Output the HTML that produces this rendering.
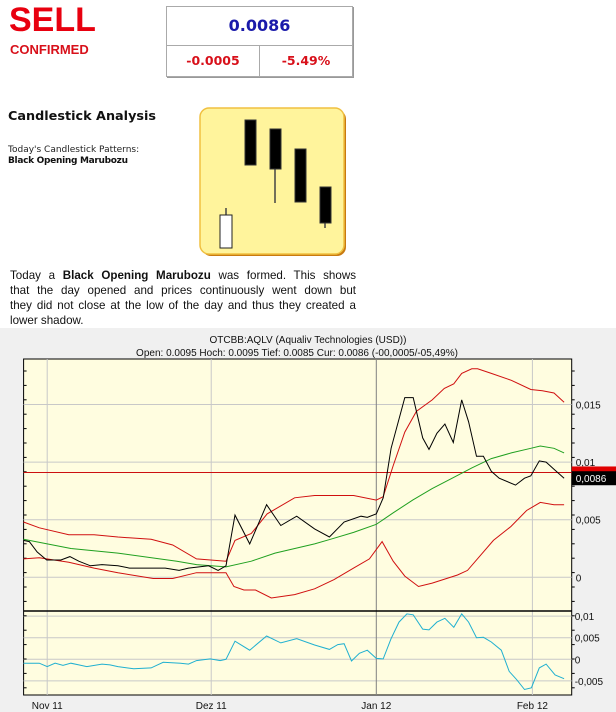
<!DOCTYPE html>
<html><head><meta charset="utf-8"><style>
body{margin:0;width:616px;height:712px;overflow:hidden;background:#fff;font-family:"Liberation Sans",sans-serif;position:relative}
.a{position:absolute}
.v{font-family:"DejaVu Sans","Liberation Sans",sans-serif}
.ln{text-align:justify;text-align-last:justify;white-space:nowrap;height:15px}
</style></head><body>
<div class="a" style="left:9px;top:1px;font-size:34px;font-weight:bold;color:#e8000f">SELL</div>
<div class="a" style="left:10px;top:42px;font-size:13px;font-weight:bold;color:#d8101a">CONFIRMED</div>
<div class="a v" style="left:166px;top:6px;width:185px;height:69px;border:1px solid #aaa;box-shadow:1px 1px 0 #999">
 <div style="height:38px;border-bottom:1px solid #aaa;text-align:center;line-height:38px;font-size:16px;font-weight:bold;color:#1a1aaa">0.0086</div>
 <div style="position:absolute;left:0;top:39px;width:92px;height:30px;border-right:1px solid #aaa;text-align:center;line-height:30px;font-size:12.5px;font-weight:bold;color:#d8101a">-0.0005</div>
 <div style="position:absolute;left:93px;top:39px;width:92px;height:30px;text-align:center;line-height:30px;font-size:12.5px;font-weight:bold;color:#d8101a">-5.49%</div>
</div>
<div class="a v" style="left:8px;top:109px;font-size:12.8px;font-weight:bold;color:#111">Candlestick Analysis</div>
<div class="a v" style="left:8px;top:145px;font-size:9px;color:#222">Today's Candlestick Patterns:</div>
<div class="a v" style="left:8px;top:156px;font-size:9px;font-weight:bold;color:#111;letter-spacing:-0.3px">Black Opening Marubozu</div>
<svg class="a" style="left:198px;top:106px" width="154" height="154">
 <rect x="4" y="4" width="144" height="146" rx="9" fill="#c87a10"/>
 <rect x="2" y="2" width="144" height="146" rx="9" fill="#fff49c" stroke="#f0c040" stroke-width="1.5"/>
 <line x1="28" y1="102" x2="28" y2="110" stroke="#444" stroke-width="1.5"/>
 <rect x="22" y="109" width="12" height="33" fill="#fff" stroke="#222"/>
 <rect x="47" y="14" width="11" height="45" fill="#000" stroke="#333"/>
 <line x1="77" y1="23" x2="77" y2="97" stroke="#444" stroke-width="1.5"/>
 <rect x="72" y="23" width="11" height="40" fill="#000" stroke="#333"/>
 <rect x="97" y="43" width="11" height="53" fill="#000" stroke="#333"/>
 <line x1="127" y1="81" x2="127" y2="122" stroke="#444" stroke-width="1.5"/>
 <rect x="122" y="81" width="11" height="36" fill="#000" stroke="#333"/>
</svg>
<div class="a" style="left:10px;top:268px;width:346px;font-size:11.6px;line-height:15px;color:#111">
 <div class="ln">Today a <b>Black Opening Marubozu</b> was formed. This shows</div>
 <div class="ln">that the day opened and prices continuously went down but</div>
 <div class="ln">they did not close at the low of the day and thus they created a</div>
 <div style="height:15px">lower shadow.</div>
</div>

<svg class="a" id="chart" style="left:0;top:328px" width="616" height="384"></svg>
<script>
const blackDays=[-4.5,-3.4,-1.9,-0.1,2.6,4.3,6,8.2,10.4,13.4,15.6,19.4,22.4,25,26.8,30.6,32.4,33.9,35.6,38.4,41.6,44.3,47.3,50.7,53.5,56.3,59.5,60.7,62.4,63.7,65.2,67.8,69.4,71.2,72.4,73.9,75.4,77,78.6,79.9,81.4,82.7,84.2,85.7,88.8,90.5,91.7,93.3,94.6,96.3,98];
const blackVals=[0.0032,0.0031,0.0022,0.0015,0.0015,0.0018,0.0014,0.0010,0.0011,0.0010,0.0008,0.0008,0.0008,0.0006,0.0008,0.0010,0.0006,0.0010,0.0054,0.0029,0.0063,0.0045,0.0053,0.0042,0.0035,0.0048,0.0053,0.0052,0.0055,0.0069,0.0112,0.0156,0.0156,0.0121,0.0111,0.0125,0.0133,0.0117,0.0154,0.0135,0.0105,0.0105,0.0092,0.0086,0.0080,0.0086,0.0088,0.0101,0.0100,0.0093,0.0086];
const maDays=[-4.5,4.5,13.4,24.6,28.3,33.9,38.7,43.2,50.7,53.7,58.1,62.4,65.6,69.3,73,76.8,80.5,84.2,88,91.7,93.5,96.1,98];
const maVals=[0.0033,0.0025,0.0021,0.0014,0.0011,0.0009,0.0014,0.0021,0.0029,0.0033,0.0039,0.0046,0.0056,0.0067,0.0077,0.0086,0.0095,0.0103,0.0108,0.0112,0.0114,0.0112,0.0108];
const upDays=[-4.5,-1.5,4.1,8.9,13.4,19.7,23.8,28.3,33.9,35.6,38.7,41.7,46.9,50.7,58.1,62.4,63.7,65.6,67.8,70,73,75.3,77.1,78.6,80.5,81.6,84.2,88,91.7,93.9,96.1,98];
const upVals=[0.0048,0.0043,0.0037,0.0037,0.0035,0.0033,0.0028,0.0016,0.0014,0.0032,0.0038,0.0055,0.0069,0.0071,0.0071,0.0067,0.0070,0.0097,0.0126,0.0144,0.0154,0.0164,0.0168,0.0177,0.0181,0.0181,0.0177,0.0171,0.0163,0.0162,0.0160,0.0152];
const loDays=[-4.5,-1.5,4.1,8.9,13.4,20.1,23.8,28.3,33.9,35.4,37.3,39.5,42.5,46.9,50.7,54.4,58.1,61.1,63.5,65.6,67.8,70.4,73,77.8,79.7,84.6,87.9,90.9,93.5,96.1,98];
const loVals=[0.0016,0.0017,0.0013,0.0008,0.0004,-0.0001,-0.0001,0.0004,0.0004,-0.0008,-0.0011,-0.0011,-0.0018,-0.0015,-0.0010,-0.0002,0.0008,0.0016,0.0031,0.0014,0.0001,-0.0008,-0.0005,0.0002,0.0006,0.0032,0.0044,0.0058,0.0065,0.0063,0.0063];
const oscDays=[-4.5,-1.5,0,1.5,3,4.5,6,7.5,10.4,11.9,13.4,16.4,19.7,22,25.3,26.8,28.3,30.9,32.8,33.9,35.6,38.4,41.6,44.3,47.3,50.7,53.5,55.1,56.3,57.7,59.2,60.7,62.4,63.7,65.2,66.7,68.2,69.4,71.2,72.4,73.9,75.4,77.1,78.6,79.9,81.4,82.7,84.2,86.1,87.6,89,90.5,91.8,93.3,94.6,96.3,98];
const oscVals=[-0.0009,-0.0009,-0.0017,-0.0009,-0.0014,-0.0009,-0.0013,-0.0017,-0.0011,-0.0013,-0.0017,-0.0022,-0.0020,-0.0007,-0.0009,-0.0011,-0.0003,0.0001,-0.0003,0.0000,0.0042,0.0021,0.0054,0.0038,0.0048,0.0033,0.0023,0.0034,0.0036,-0.0004,0.0014,0.0021,0.0002,0.0001,0.0048,0.0086,0.0105,0.0103,0.0070,0.0068,0.0086,0.0095,0.0074,0.0105,0.0086,0.0050,0.0051,0.0040,0.0021,-0.0028,-0.0047,-0.0070,-0.0066,-0.0020,-0.0011,-0.0036,-0.0045];
const mainTicks=[0,0.005,0.01,0.015];
const mainTickLabels=["0","0,005","0,01","0,015"];
const oscTicks=[-0.005,0,0.005,0.01];
const oscTickLabels=["-0,005","0","0,005","0,01"];
const monthDays=[0,31.1,62.4,92];
const monthLabels=["Nov 11","Dez 11","Jan 12","Feb 12"];
const refLevel=0.0091;
const lastPrice=0.0086;

const svg=document.getElementById('chart');
const NS='http://www.w3.org/2000/svg';
const OY=328, L=23.6, R=571.7, T=359-OY, MB=611-OY, OB=695-OY;
const xs=d=>47.2+d*5.274;
const ym=v=>(577.3-OY)-v*11520;
const yo=v=>(659.3-OY)-v*4320;
function mk(tag,attrs,parent){const e=document.createElementNS(NS,tag);for(const k in attrs)e.setAttribute(k,attrs[k]);(parent||svg).appendChild(e);return e;}
let e;
e=mk('rect',{x:0,y:0,width:616,height:384,fill:'#f0f0f0'});


e=mk('rect',{x:L,y:T,width:R-L,height:OB-T,fill:'#fffde0',stroke:'#000','stroke-width':1});


e=mk('text',{x:308,y:15,'text-anchor':'middle','font-size':10,fill:'#111'});e.textContent='OTCBB:AQLV (Aqualiv Technologies (USD))';


e=mk('text',{x:297,y:28,'text-anchor':'middle','font-size':10,fill:'#111'});e.textContent='Open: 0.0095 Hoch: 0.0095 Tief: 0.0085 Cur: 0.0086 (-00,0005/-05,49%)';


mainTicks.forEach((v,i)=>{
 e=mk('line',{x1:L,x2:R,y1:ym(v),y2:ym(v),stroke:'#c8c8c8'});
 
 
 e=mk('text',{x:R+4,y:ym(v)+4,'font-size':10,fill:'#111'});e.textContent=mainTickLabels[i];
 
 
});
oscTicks.forEach((v,i)=>{
 e=mk('line',{x1:L,x2:R,y1:yo(v),y2:yo(v),stroke:'#c8c8c8'});
 
 
 e=mk('text',{x:R+3,y:yo(v)+4,'font-size':10,fill:'#111'});e.textContent=oscTickLabels[i];
 
 
});
monthDays.forEach((d,i)=>{
 e=mk('line',{x1:xs(d),x2:xs(d),y1:T,y2:OB,stroke:i==2?'#808080':'#c8c8c8'});
 
 
 e=mk('text',{x:xs(d),y:OB+14,'text-anchor':'middle','font-size':10,fill:'#111'});e.textContent=monthLabels[i];
 
 
});
for(let y=T+12;y<OB;y+=14.4){mk('line',{x1:L,x2:L+3,y1:y,y2:y,stroke:'#000'});mk('line',{x1:R,x2:R+3,y1:y,y2:y,stroke:'#000'});}
e=mk('line',{x1:L,x2:R,y1:MB,y2:MB,stroke:'#000','stroke-width':1.5});


e=mk('line',{x1:L,x2:R,y1:ym(refLevel),y2:ym(refLevel),stroke:'#cc1010'});


function line(days,vals,yf,color,name){
 const p=days.map((d,i)=>xs(d).toFixed(1)+','+yf(vals[i]).toFixed(1)).join(' ');
 const el=mk('polyline',{points:p,fill:'none',stroke:color,'stroke-width':1});
 
 
}
line(upDays,upVals,ym,'#d01010','upper-band');
line(loDays,loVals,ym,'#d01010','lower-band');
line(maDays,maVals,ym,'#20a020','moving-average');
line(blackDays,blackVals,ym,'#000','price-line');
line(oscDays,oscVals,yo,'#20b0d0','oscillator-line');
e=mk('rect',{x:R,y:ym(refLevel)-6,width:45,height:12,fill:'#e00000'});


e=mk('rect',{x:R,y:ym(lastPrice)-7,width:45,height:14,fill:'#000'});


e=mk('text',{x:R+4,y:ym(lastPrice)+4,'font-size':10,fill:'#fff'});e.textContent='0,0086';


</script>
</body></html>
